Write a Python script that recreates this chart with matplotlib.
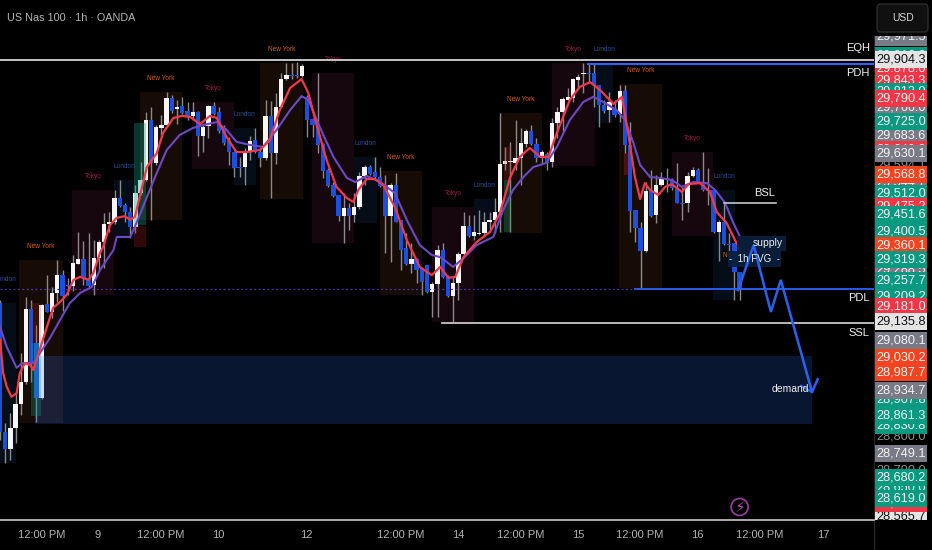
import matplotlib
matplotlib.use('Agg')
import matplotlib.pyplot as plt
from matplotlib.lines import Line2D
from matplotlib.patches import FancyBboxPatch

plt.rcParams['font.family'] = ['Liberation Sans', 'DejaVu Sans']

# candles, one hour each
opens = [29191, 28813, 28763, 28825, 28895, 28960, 29174, 29074, 28913, 29188, 29165, 29221, 29273, 29244, 29241, 29306,
         29320, 29265, 29244, 29323, 29370, 29423, 29429, 29499, 29479, 29458, 29414, 29514, 29552, 29728, 29602, 29705,
         29713, 29793, 29760, 29769, 29754, 29740, 29752, 29681, 29710, 29769, 29752, 29705, 29666, 29634, 29590, 29590,
         29634, 29669, 29634, 29617, 29740, 29631, 29766, 29848, 29860, 29860, 29857, 29796, 29731, 29713, 29658, 29581,
         29537, 29508, 29446, 29470, 29449, 29473, 29564, 29590, 29576, 29561, 29537, 29446, 29537, 29435, 29353, 29306,
         29320, 29294, 29303, 29224, 29247, 29347, 29270, 29212, 29250, 29335, 29417, 29388, 29393, 29397, 29429, 29435,
         29458, 29599, 29605, 29602, 29617, 29658, 29696, 29658, 29617, 29628, 29605, 29719, 29752, 29787, 29793, 29845,
         29863, 29866, 29866, 29831, 29772, 29757, 29760, 29746, 29813, 29655, 29464, 29411, 29344, 29523, 29449, 29537,
         29558, 29552, 29526, 29485, 29485, 29564, 29581, 29546, 29523, 29523, 29400, 29429, 29364, 29367, 29282]
highs = [29200, 28839, 28869, 28927, 29045, 29209, 29200, 29127, 29188, 29273, 29238, 29317, 29288, 29265, 29332, 29400,
         29373, 29397, 29376, 29376, 29455, 29458, 29523, 29552, 29485, 29473, 29537, 29605, 29752, 29766, 29713, 29743,
         29810, 29801, 29787, 29796, 29781, 29781, 29754, 29713, 29772, 29781, 29766, 29713, 29678, 29636, 29620, 29646,
         29681, 29705, 29649, 29787, 29784, 29807, 29866, 29895, 29895, 29898, 29892, 29801, 29734, 29866, 29661, 29587,
         29546, 29508, 29514, 29485, 29514, 29576, 29596, 29596, 29620, 29590, 29567, 29543, 29573, 29435, 29397, 29367,
         29323, 29294, 29303, 29253, 29361, 29367, 29273, 29268, 29341, 29458, 29449, 29449, 29464, 29458, 29458, 29499,
         29749, 29649, 29664, 29728, 29705, 29702, 29713, 29675, 29640, 29634, 29734, 29766, 29796, 29822, 29851, 29863,
         29895, 29895, 29895, 29831, 29787, 29810, 29787, 29831, 29831, 29722, 29464, 29429, 29546, 29581, 29567, 29576,
         29587, 29558, 29602, 29532, 29576, 29590, 29587, 29634, 29587, 29526, 29435, 29485, 29397, 29367, 29282]
lows = [28790, 28722, 28731, 28781, 28863, 28955, 28960, 28842, 28910, 29165, 29147, 29194, 29168, 29215, 29227, 29306,
        29244, 29238, 29215, 29288, 29294, 29400, 29423, 29473, 29429, 29382, 29397, 29508, 29550, 29435, 29596, 29684,
        29711, 29750, 29716, 29746, 29728, 29728, 29622, 29634, 29675, 29743, 29690, 29655, 29596, 29561, 29561, 29537,
        29611, 29631, 29590, 29611, 29499, 29599, 29763, 29845, 29848, 29851, 29854, 29678, 29678, 29631, 29558, 29532,
        29502, 29432, 29367, 29405, 29429, 29467, 29537, 29567, 29558, 29532, 29338, 29312, 29429, 29288, 29303, 29279,
        29250, 29215, 29221, 29150, 29150, 29265, 29209, 29135, 29200, 29332, 29385, 29376, 29391, 29385, 29405, 29397,
        29400, 29581, 29400, 29581, 29537, 29649, 29655, 29605, 29602, 29581, 29590, 29675, 29693, 29787, 29781, 29819,
        29807, 29837, 29766, 29708, 29749, 29722, 29737, 29722, 29631, 29400, 29370, 29235, 29341, 29444, 29426, 29534,
        29517, 29523, 29485, 29435, 29458, 29561, 29543, 29520, 29479, 29397, 29315, 29362, 29326, 29200, 29200]
closes = [28813, 28763, 28825, 28895, 28960, 29174, 29015, 28913, 29186, 29165, 29221, 29273, 29212, 29241, 29309, 29320,
          29265, 29241, 29323, 29370, 29423, 29429, 29499, 29476, 29458, 29414, 29514, 29552, 29728, 29602, 29707, 29713,
          29793, 29754, 29766, 29749, 29740, 29752, 29681, 29707, 29769, 29746, 29696, 29661, 29634, 29587, 29587, 29634,
          29666, 29634, 29617, 29740, 29631, 29766, 29848, 29860, 29857, 29857, 29886, 29728, 29713, 29655, 29578, 29534,
          29505, 29446, 29470, 29446, 29473, 29564, 29590, 29570, 29561, 29534, 29446, 29537, 29429, 29347, 29306, 29320,
          29288, 29253, 29224, 29247, 29347, 29268, 29212, 29250, 29335, 29417, 29388, 29400, 29397, 29429, 29435, 29458,
          29599, 29608, 29608, 29617, 29661, 29696, 29658, 29617, 29634, 29602, 29719, 29752, 29790, 29796, 29848, 29854,
          29866, 29863, 29831, 29772, 29754, 29781, 29743, 29813, 29655, 29461, 29411, 29344, 29520, 29446, 29537, 29558,
          29555, 29529, 29485, 29482, 29564, 29581, 29546, 29523, 29520, 29400, 29429, 29364, 29361, 29282, 29229]

# the two moving averages, read at these bar positions
fast_x = [0, 0.6, 1.3, 2.2, 3.2, 3.8, 4.8, 5.8, 6.4, 7.8, 9.0, 10.2, 11.5, 12.8, 14.1, 15.4, 17.0, 17.9, 19.2, 19.8, 21.1,
          22.4, 24.0, 25.0, 25.9, 28.2, 30.1, 31.3, 33.3, 34.9, 36.5, 38.4, 40.3, 41.6, 43.5, 45.4, 47.3, 49.9, 51.8, 53.7,
          55.7, 57.9, 59.2, 60.8, 62.7, 64.6, 66.6, 67.8, 68.8, 70.4, 72.0, 73.6, 75.8, 78.1, 80.6, 82.9, 84.5, 86.1, 87.4,
          89.0, 91.5, 94.1, 96.0, 97.9, 99.8, 101.7, 103.7, 105.3, 106.9, 109.4, 111.3, 113.3, 115.2, 117.8, 119.4, 120.6,
          121.9, 122.9, 123.8, 124.8, 126.4, 127.7, 129.0, 130.9, 132.2, 134.4, 136.3, 137.6, 139.5, 141.4, 142.7]
fast_y = [29083, 28986, 28945, 28916, 28927, 28986, 29015, 29009, 28995, 29062, 29121, 29177, 29194, 29215, 29259, 29268,
          29259, 29279, 29338, 29356, 29420, 29441, 29446, 29435, 29444, 29590, 29631, 29690, 29734, 29740, 29737, 29716,
          29740, 29734, 29678, 29634, 29634, 29640, 29669, 29757, 29822, 29848, 29807, 29713, 29611, 29532, 29499, 29488,
          29523, 29555, 29555, 29537, 29473, 29376, 29297, 29273, 29297, 29265, 29268, 29326, 29370, 29400, 29455, 29558,
          29620, 29646, 29620, 29620, 29690, 29787, 29825, 29839, 29816, 29775, 29796, 29690, 29561, 29496, 29543, 29523,
          29508, 29532, 29540, 29517, 29540, 29543, 29517, 29458, 29426, 29367, 29332]
slow_x = [0, 1.3, 3.2, 4.2, 6.4, 7.7, 9.6, 11.5, 13.4, 15.4, 17.6, 19.2, 21.8, 22.4, 25.0, 26.2, 28.2, 30.1, 32.0, 34.5, 37.1,
          39.0, 41.6, 43.5, 45.4, 48.0, 50.5, 53.1, 55.7, 57.9, 59.2, 61.4, 64.0, 66.6, 68.2, 70.4, 73.0, 75.8, 78.1, 80.6,
          82.9, 84.5, 87.0, 89.0, 91.5, 94.7, 96.6, 98.5, 100.5, 102.4, 104.9, 106.9, 109.4, 112.0, 113.9, 115.8, 118.4,
          120.0, 121.6, 122.9, 124.8, 126.7, 129.0, 130.9, 133.1, 135.7, 137.3, 139.2, 140.8, 142.1]
slow_y = [29121, 29062, 29001, 29015, 29015, 29045, 29089, 29141, 29191, 29221, 29238, 29288, 29347, 29385, 29385, 29426,
          29502, 29573, 29640, 29684, 29705, 29713, 29722, 29699, 29664, 29655, 29649, 29699, 29757, 29798, 29787, 29707,
          29620, 29558, 29546, 29564, 29546, 29514, 29435, 29361, 29332, 29326, 29297, 29323, 29361, 29385, 29464, 29523,
          29561, 29590, 29602, 29649, 29728, 29781, 29796, 29781, 29757, 29728, 29661, 29596, 29561, 29558, 29552, 29532,
          29546, 29543, 29523, 29485, 29426, 29385]

# session boxes
session_names = ['London', 'New York', 'Tokyo', 'London', 'New York', 'Tokyo', 'London', 'New York', 'Tokyo', 'London',
                 'New York', 'Tokyo', 'London', 'New York', 'Tokyo', 'London', 'New York', 'Tokyo', 'London']
session_start = [-1.2, 3.6, 13.8, 21.9, 26.9, 36.9, 44.9, 49.9, 59.9, 68.0, 73.0, 82.9, 91.0, 96.0, 106.0, 114.2, 118.8, 129.0, 136.9]
session_end = [3.1, 12.1, 21.9, 25.9, 34.9, 44.9, 49.1, 58.2, 68.0, 72.4, 81.0, 91.0, 95.0, 104.0, 114.2, 117.7, 127.1, 136.9, 141.1]
session_high = [29191, 29317, 29523, 29552, 29810, 29781, 29705, 29895, 29866, 29620, 29578, 29473, 29496, 29749, 29895, 29895, 29834, 29634, 29523]
session_low = [28722, 28839, 29215, 29385, 29435, 29584, 29537, 29496, 29367, 29426, 29215, 29135, 29397, 29397, 29593, 29719, 29235, 29388, 29200]
session_colors = {'London': '#050d18', 'New York': '#170c05', 'Tokyo': '#16060d'}
label_colors = {'London': '#24509c', 'New York': '#d2600f', 'Tokyo': '#a81a44'}

# right hand price scale, drawn in this order so the later ones cover the earlier
scale_back = [29916.0, 29971.5, 29878.0, 29843.3, 29813.0, 29766.0, 29683.6, 29640.2, 29544.7, 29512.0, 29475.2, 29426.0,
              29288.5, 29209.2, 28907.8, 28830.8, 28650.0, 28565.7, 28602.0]
scale_back_colors = ['#089981', '#787b86', '#f23645', '#f23645', '#089981', '#787b86', '#787b86', '#f23645', '#787b86', '#089981',
                     '#f23645', '#089981', '#787b86', '#089981', '#089981', '#089981', '#089981', '#e4e4e4', '#f23645']
scale_front = [29904.3, 29790.4, 29725.0, 29630.1, 29568.8, 29451.6, 29400.5, 29360.1, 29319.3, 29257.7, 29181.0, 29135.8,
               29080.1, 29030.2, 28987.7, 28934.7, 28861.3, 28749.1, 28680.2, 28619.0]
scale_front_colors = ['#e4e4e4', '#f23645', '#089981', '#787b86', '#f4431f', '#089981', '#089981', '#f4431f', '#089981', '#089981',
                      '#f23645', '#e4e4e4', '#787b86', '#f4431f', '#f4431f', '#787b86', '#089981', '#787b86', '#089981', '#089981']
scale_plain = [29594.1, 28800.0, 28700.0]

tick_pos = [8, 18.8, 30.9, 41.9, 58.9, 77, 87.9, 100, 111, 122.9, 133.8, 145.9, 158]
tick_labels = ['12:00 PM', '9', '12:00 PM', '10', '12', '12:00 PM', '14', '12:00 PM', '15', '12:00 PM', '16', '12:00 PM', '17']

# projected path
path_x = [141.7, 144.7, 148.0, 149.9, 155.9, 157.0]
path_y = [29229, 29361, 29165, 29259, 28930, 28968]

fig = plt.figure(figsize=(9.32, 5.5), dpi=100, facecolor='black')
ax = fig.add_axes([0, 30 / 550, 874 / 932, 520 / 550], facecolor='black')
ax.set_xlim(0, 167.8)
ax.set_ylim(28554.8, 30080)

for name, x0, x1, hi, lo in zip(session_names, session_start, session_end, session_high, session_low):
    ax.fill_between([x0, x1], lo, hi, color=session_colors[name], lw=0, zorder=1)
    if x0 < 0:
        ax.text(1, 29260, name, color=label_colors[name], fontsize=4.7, ha='center', va='center', zorder=2)
    else:
        ax.annotate(name, ((x0 + x1) / 2, hi), xytext=(0, 9.5), textcoords='offset points', color=label_colors[name],
                    fontsize=4.7, ha='center', va='center', zorder=2, annotation_clip=False)
ax.text(141.5, 29332, 'New York', color=label_colors['New York'], fontsize=4.7, ha='center', va='center', zorder=2)

# candles
xs = list(range(len(closes)))
body_bottom = [min(o, c) for o, c in zip(opens, closes)]
body_height = [max(abs(c - o), 3) for o, c in zip(opens, closes)]
body_colors = ['#f6f6f6' if c >= o else '#1c50dc' for o, c in zip(opens, closes)]
ax.vlines(xs, lows, highs, color='#8a8a8a', lw=1, zorder=3)
ax.bar(xs, body_height, bottom=body_bottom, width=0.84, color=body_colors, lw=0, zorder=3.5)

# small FVG boxes over the candles
ax.fill_between([25.8, 28.0], 29420, 29720, color='#10a085', alpha=0.35, lw=0, zorder=4)
ax.fill_between([25.8, 28.0], 29355, 29417, color='#b02020', alpha=0.28, lw=0, zorder=4)
ax.fill_between([6.0, 7.9], 28860, 29075, color='#10a070', alpha=0.3, lw=0, zorder=4)
ax.fill_between([6.0, 7.9], 29075, 29190, color='#b02020', alpha=0.22, lw=0, zorder=4)
ax.fill_between([96.7, 98.1], 29400, 29552, color='#10a070', alpha=0.3, lw=0, zorder=4)
ax.fill_between([96.7, 98.1], 29552, 29649, color='#b02020', alpha=0.22, lw=0, zorder=4)
ax.fill_between([119.8, 120.8], 29567, 29631, color='#b02020', alpha=0.35, lw=0, zorder=4)

ax.plot(slow_x, slow_y, color='#6d48c4', lw=1.5, solid_joinstyle='round', zorder=5)
ax.plot(fast_x, fast_y, color='#f0394c', lw=1.6, solid_joinstyle='round', zorder=5.5)

# demand zone
ax.fill_between([6.7, 155.9], 28836, 29036, color='#3270f9', alpha=0.2, lw=0, zorder=6)

# levels
ax.axhline(29904, color='#c4c4c4', lw=1.4, zorder=7)
ax.plot([112.9, 167.8], [29892, 29892], color='#2962ff', lw=1.5, zorder=7)
ax.plot([139, 149], [29485, 29485], color='#c8c8c8', lw=1.2, zorder=7)
ax.plot([0, 121.9], [29232, 29232], color='#4a36b0', lw=0.9, ls=(0, (1.5, 2)), zorder=7)
ax.plot([121.9, 167.8], [29232, 29232], color='#2962ff', lw=1.3, zorder=7)
ax.plot([84.9, 167.8], [29133, 29133], color='#d8d8d8', lw=1.2, zorder=7)

# supply and fvg boxes
ax.fill_between([141.5, 150.9], 29345, 29388, color='#0a1e3c', alpha=0.95, lw=0, zorder=7.5)
ax.fill_between([139.8, 149.9], 29297, 29344, color='#0a1e3c', alpha=0.95, lw=0, zorder=7.5)

ax.plot(path_x, path_y, color='#2a62f0', lw=1.8, solid_joinstyle='miter', zorder=8)
ax.plot([153.8, 155.9], [28948, 28930], color='#2a62f0', lw=1.6, zorder=8)

text_style = dict(color='#f0f0f0', ha='center', va='center', zorder=9)
ax.text(164.7, 29939, 'EQH', fontsize=8, **text_style)
ax.text(164.7, 29866, 'PDH', fontsize=8, **text_style)
ax.text(146.7, 29514, 'BSL', fontsize=8, **text_style)
ax.text(164.9, 29206, 'PDL', fontsize=8, **text_style)
ax.text(164.9, 29103, 'SSL', fontsize=8, **text_style)
ax.text(147.4, 29367, 'supply', fontsize=7.5, **text_style)
ax.text(144.9, 29320, '-  1h FVG  -', fontsize=7, **text_style)
ax.text(151.7, 28939, 'demand', fontsize=7.5, **text_style)

# lightning mark
ax.scatter([142], [28593], s=150, facecolors='none', edgecolors='#9c3fa0', lw=1.2, zorder=9)
ax.text(142, 28593, '\u26a1', color='#b04ab4', fontsize=11, ha='center', va='center', family='DejaVu Sans', zorder=10)

ax.set_xticks(tick_pos, tick_labels)
ax.set_yticks([])
ax.tick_params(axis='x', length=0, colors='#b4b4b4', labelsize=8, pad=7)
for side in ['top', 'left', 'right']:
    ax.spines[side].set_visible(False)
ax.spines['bottom'].set_color('#c8c8c8')
ax.spines['bottom'].set_linewidth(1.2)

# price scale panel
ax_p = fig.add_axes([874 / 932, 30 / 550, 58 / 932, 520 / 550], facecolor='black')
ax_p.set_xlim(0, 58)
ax_p.set_ylim(28554.8, 30080)
ax_p.axis('off')

for v in scale_plain:
    ax_p.text(27, v, f'{v:,.1f}', color='#8c8c8c', fontsize=9.2, ha='center', va='center', clip_on=True, zorder=1)

z = 2
for v, col in list(zip(scale_back, scale_back_colors)) + list(zip(scale_front, scale_front_colors)):
    ax_p.barh(v, 52, left=1, height=50, color=col, lw=0, zorder=z)
    txt = '#111111' if col == '#e4e4e4' else '#f2f2f2'
    ax_p.text(27, v, f'{v:,.1f}', color=txt, fontsize=9.2, ha='center', va='center', clip_on=True, zorder=z + 1)
    z += 2
ax_p.axhspan(29974, 30080, color='black', lw=0, zorder=z)

# header bits
fig.text(7 / 932, 1 - 18 / 550, 'US Nas 100 \u00b7 1h \u00b7 OANDA', color='#b4b4b4', fontsize=7.8, ha='left', va='center')
fig.add_artist(FancyBboxPatch((877, 518), 51, 28, boxstyle='round,pad=0,rounding_size=4', fc='#101010', ec='#2c2c2c',
                              lw=1, transform=None, zorder=20))
fig.text(903 / 932, 1 - 18 / 550, 'USD', color='#d8d8d8', fontsize=7.5, ha='center', va='center', zorder=21)
fig.add_artist(Line2D([874 / 932, 874 / 932], [0, 1], color='#262626', lw=1, zorder=0))

fig.savefig('out.png', dpi=100, facecolor='black')
